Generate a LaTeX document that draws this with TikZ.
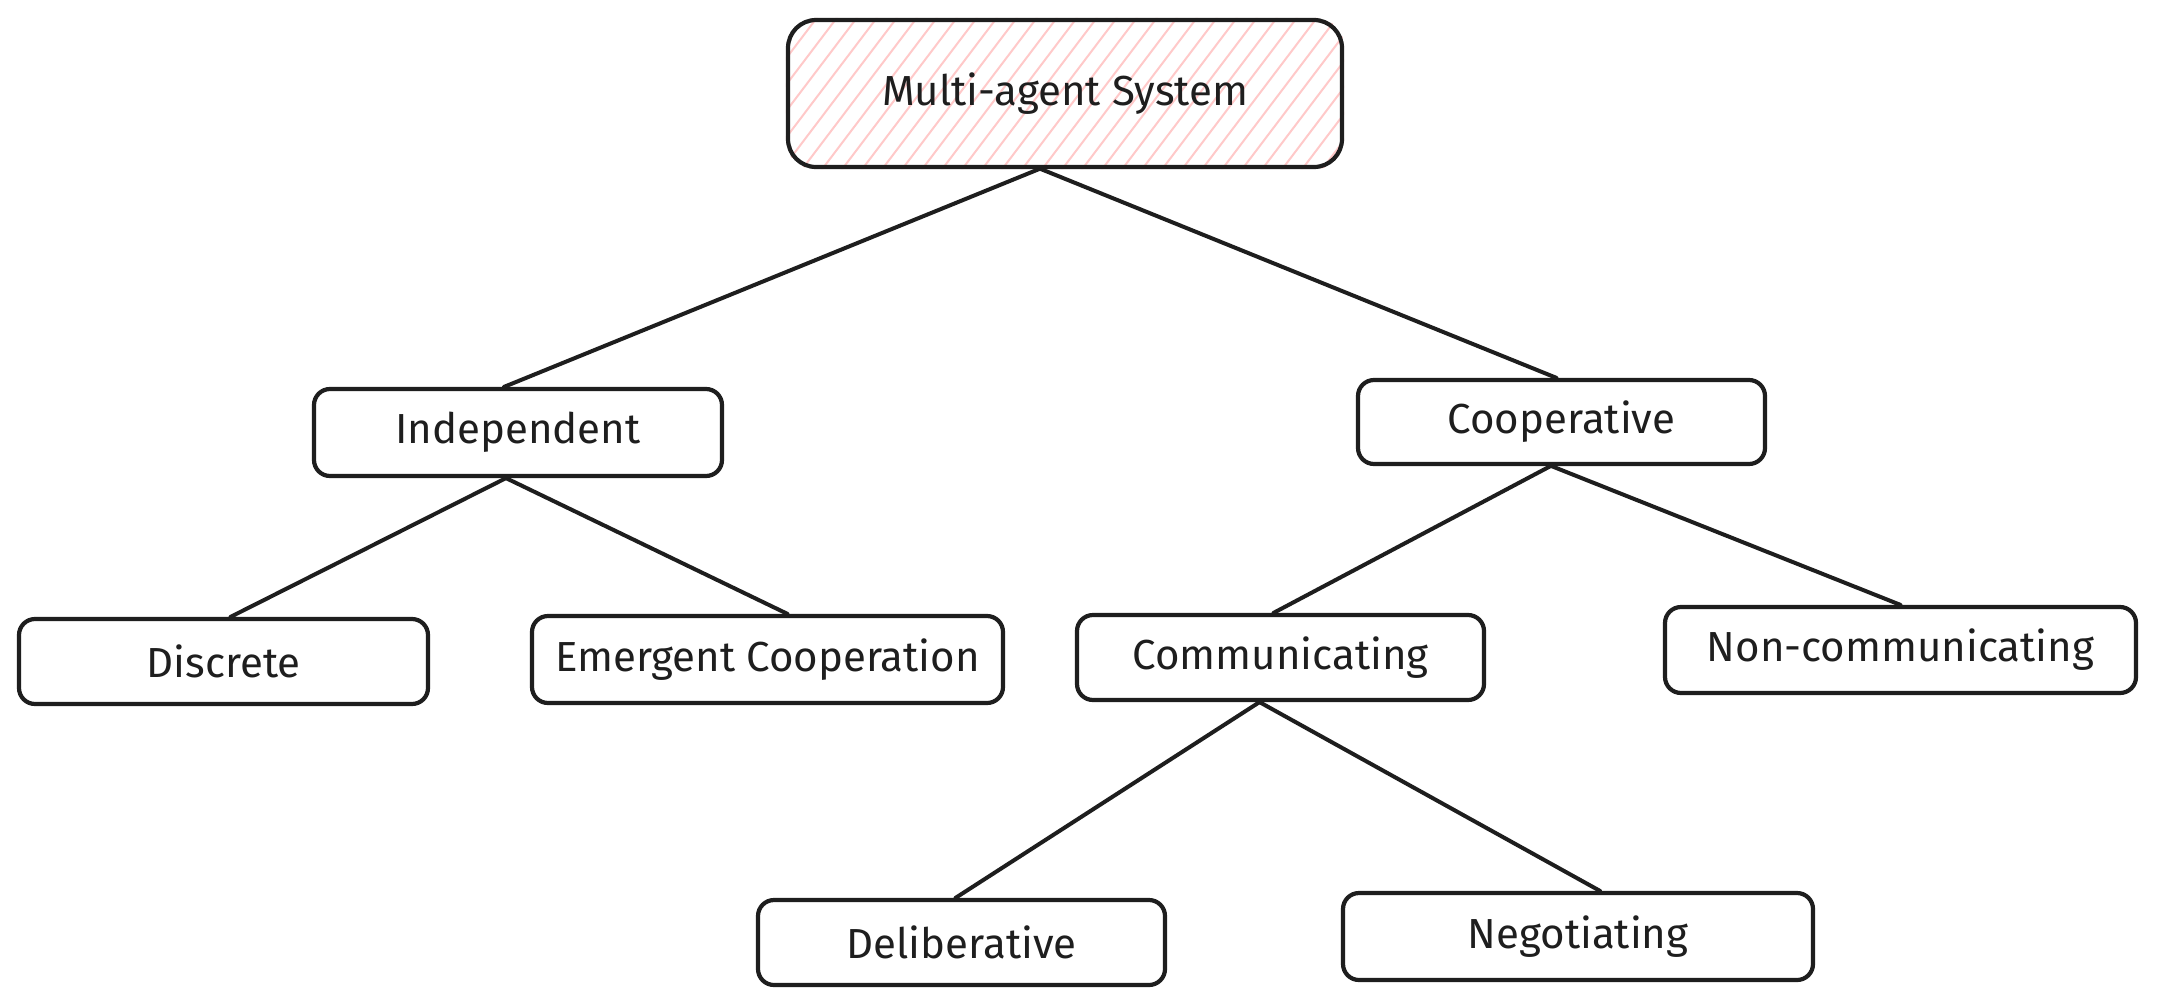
\documentclass[tikz,border=0pt]{standalone}
\usepackage{fontspec}
\setmainfont{Fira Sans}
\usetikzlibrary{backgrounds}
\definecolor{ink}{HTML}{1E1E1E}
\definecolor{hatchc}{HTML}{FFC9C9}
\begin{document}
\begin{tikzpicture}[x=1pt,y=-1pt,
  box/.style={draw=ink, line width=4.2pt, rounded corners=16pt, fill=white,
    font=\fontsize{42}{48}\selectfont, text=ink, inner sep=0pt},
  link/.style={draw=ink, line width=4pt, line cap=round},
  hatchline/.style={draw=hatchc, line width=2pt}]
\useasboundingbox (0,0) rectangle (2157,1004);

\node[box, fill=none, rounded corners=28pt, minimum width=554pt, minimum height=147pt] (root) at (1065,93.5) {Multi-agent System};
\begin{scope}[on background layer]
  \clip[rounded corners=28pt] (root.south west) rectangle (root.north east);
  \foreach \x in {640,660,...,1360} \draw[hatchline] (\x,172) -- ++(119,-157);
\end{scope}

\node[box, minimum width=408pt, minimum height=87pt] (indep) at (518,432.5) {Independent};
\node[box, minimum width=407pt, minimum height=84pt] (coop) at (1561.5,422) {Cooperative};
\node[box, minimum width=409pt, minimum height=85pt] (disc) at (223.5,661.5) {Discrete};
\node[box, minimum width=471pt, minimum height=87pt] (emer) at (767.5,659.5) {Emergent Cooperation};
\node[box, minimum width=407pt, minimum height=85pt] (comm) at (1280.5,657.5) {Communicating};
\node[box, minimum width=471pt, minimum height=86pt] (nonc) at (1900.5,650) {Non-communicating};
\node[box, minimum width=407pt, minimum height=85pt] (delib) at (961.5,942.5) {Deliberative};
\node[box, minimum width=470pt, minimum height=87pt] (negot) at (1578,936.5) {Negotiating};

\draw[link] ([xshift=-26pt]root.south) -- ([xshift=-14pt]indep.north);
\draw[link] ([xshift=-24pt]root.south) -- ([xshift=-5pt]coop.north);
\draw[link] ([xshift=-12pt]indep.south) -- ([xshift=7pt]disc.north);
\draw[link] ([xshift=-12pt]indep.south) -- ([xshift=20pt]emer.north);
\draw[link] ([xshift=-11pt]coop.south) -- ([xshift=-7pt]comm.north);
\draw[link] ([xshift=-10pt]coop.south) -- (nonc.north);
\draw[link] ([xshift=-21pt]comm.south) -- ([xshift=-6pt]delib.north);
\draw[link] ([xshift=-21pt]comm.south) -- ([xshift=22pt]negot.north);
\end{tikzpicture}
\end{document}
